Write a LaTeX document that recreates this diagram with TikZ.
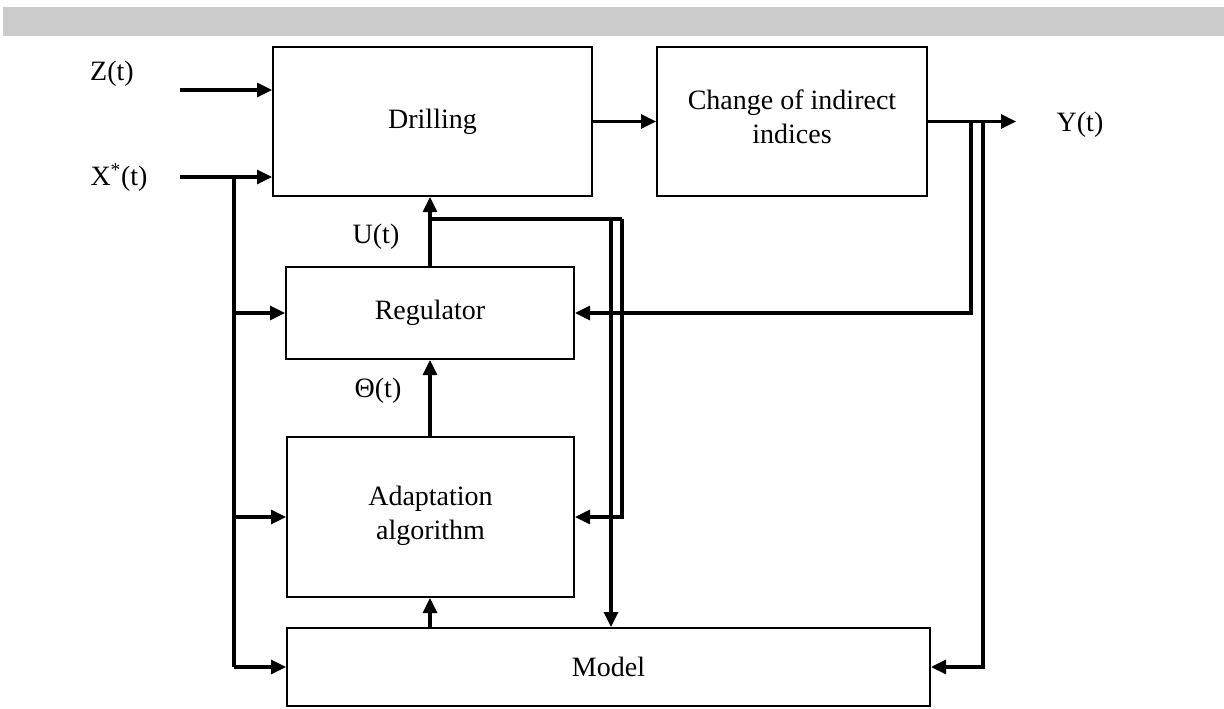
\documentclass[tikz,border=0pt]{standalone}
\usepackage{fontspec}
\setmainfont{Liberation Serif}
\usetikzlibrary{arrows.meta}
\definecolor{barg}{HTML}{CBCBCB}
\begin{document}
\begin{tikzpicture}[x=1pt,y=-1pt,
  font=\fontsize{28}{34}\selectfont,
  box/.style={draw,line width=2pt,inner sep=0pt,align=center},
  conn/.style={line width=3.2pt},
  arr/.style={conn,-{Triangle[length=15pt,width=14pt]}},
  lbl/.style={inner sep=0pt}]
\useasboundingbox (0,0) rectangle (1224,709);
\fill[barg] (3,7) rectangle (1224,36);
% boxes
\node[box,minimum width=319pt,minimum height=149pt] (drill) at (432.5,121.5) {Drilling};
\node[box,minimum width=270pt,minimum height=149pt,align=center] (chg) at (792,121.5) {};
\node[lbl,align=center] (chgt) at (792,117) {Change of indirect\\indices};
\node[box,minimum width=288pt,minimum height=92pt] (reg) at (430,313) {Regulator};
\node[box,minimum width=287pt,minimum height=160pt] (adapt) at (430.5,517) {};
\node[lbl,align=center] (adaptt) at (430.5,516) {Adaptation\\algorithm};
\node[box,minimum width=643pt,minimum height=78pt] (model) at (608.5,667) {Model};
% labels
\node[lbl] (zl) at (112,74) {Z(t)};
\node[lbl] (xl) at (119,178) {X\textsuperscript{*}(t)};
\node[lbl] (yl) at (1080,125) {Y(t)};
\node[lbl] (ul) at (376,237) {U(t)};
\node[lbl] (tl) at (378,391) {Θ(t)};
% inputs
\coordinate (zs) at (180,90);
\coordinate (xs) at (180,177);
\coordinate (xj) at (234,177);
\draw[arr] (zs) -- (zs -| drill.west);
\draw[arr] (xs) -- (xs -| drill.west);
\draw[conn] (xj) -- (xj |- model.west);
\draw[arr] (xj |- reg.west) -- (reg.west);
\draw[arr] (xj |- adapt.west) -- (adapt.west);
\draw[arr] (xj |- model.west) -- (model.west);
% forward path
\draw[arr] (drill.east) -- (chg.west);
\coordinate (yend) at (1016,121.5);
\draw[arr] (chg.east) -- (yend);
\coordinate (f1) at (971,121.5);
\coordinate (f2) at (983,121.5);
\draw[arr] (f1) |- (reg.east);
\draw[arr] (f2) |- (model.east);
% control
\draw[arr] (reg.north) -- (reg.north |- drill.south);
\coordinate (u1) at (430,219);
\coordinate (u2) at (622,219);
\coordinate (u3) at (611,219);
\draw[conn] (u1) -- (u2);
\draw[arr] (u2) |- (adapt.east);
\draw[arr] (u3) -- (u3 |- model.north);
\draw[arr] (reg.south |- adapt.north) -- (reg.south);
\draw[arr] (reg.south |- model.north) -- (reg.south |- adapt.south);
\end{tikzpicture}
\end{document}
